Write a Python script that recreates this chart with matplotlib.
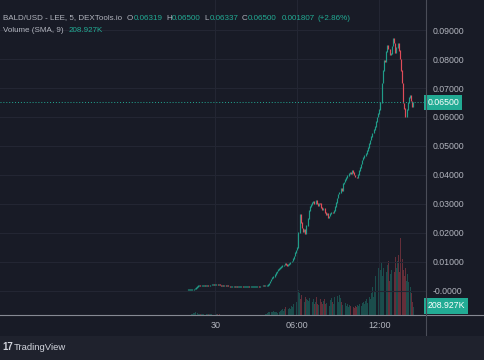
import matplotlib
matplotlib.use("Agg")
import matplotlib.pyplot as plt
import numpy as np
from matplotlib.lines import Line2D
from matplotlib.patches import Rectangle
from matplotlib import transforms

plt.rcParams['font.family'] = ['Liberation Sans', 'DejaVu Sans']

# colours (TradingView dark)
BG = '#181b26'
BAR_BG = '#1f222d'
GRID = '#232633'
TXT = '#b2b5be'
UP = '#22ab94'
DOWN = '#f7525f'

W, H = 485, 360

# 5 minute candles, index 0 = "30" (midnight), first candle at -24
start = -24
closes = [
    0.0003, 0.0003, 0.0004, 0.0005, 0.0005, 0.0006, 0.0008, 0.0012, 0.0015, 0.0017,
    0.0018, 0.0017, 0.0018, 0.0019, 0.0019, 0.0018, 0.0019, 0.0020, 0.0019, 0.0020,
    0.0020, 0.0021, 0.0021, 0.0020, 0.0021, 0.0022, 0.0021, 0.0022, 0.0020, 0.0019,
    0.0019, 0.0018, 0.0018, 0.0017, 0.0017, 0.0016, 0.0016, 0.0015, 0.0015, 0.0015,
    0.0015, 0.0014, 0.0015, 0.0014, 0.0014, 0.0014, 0.0014, 0.0015, 0.0014, 0.0014,
    0.0014, 0.0014, 0.0014, 0.0015, 0.0014, 0.0014, 0.0015, 0.0015, 0.0015, 0.0015,
    0.0015, 0.0016, 0.0015, 0.0016, 0.0016, 0.0016, 0.0017, 0.0016, 0.0017, 0.0018,
    0.0022, 0.0027, 0.0033, 0.0040, 0.0045, 0.0050, 0.0056, 0.0062, 0.0068, 0.0072,
    0.0076, 0.0080, 0.0083, 0.0086, 0.0089, 0.0093, 0.0090, 0.0087, 0.0091, 0.0095,
    0.0099, 0.0103, 0.0110, 0.0120, 0.0132, 0.0140, 0.0148, 0.0200, 0.0262, 0.0235,
    0.0217, 0.0205, 0.0212, 0.0197, 0.0225, 0.0250, 0.0276, 0.0290, 0.0298, 0.0305,
    0.0310, 0.0302, 0.0312, 0.0300, 0.0294, 0.0303, 0.0300, 0.0288, 0.0280, 0.0286,
    0.0270, 0.0262, 0.0268, 0.0252, 0.0258, 0.0266, 0.0272, 0.0268, 0.0276, 0.0290,
    0.0305, 0.0320, 0.0334, 0.0340, 0.0352, 0.0346, 0.0369, 0.0375, 0.0385, 0.0392,
    0.0397, 0.0405, 0.0410, 0.0405, 0.0414, 0.0408, 0.0400, 0.0393, 0.0390, 0.0402,
    0.0415, 0.0425, 0.0438, 0.0451, 0.0460, 0.0468, 0.0475, 0.0483, 0.0495, 0.0508,
    0.0520, 0.0532, 0.0545, 0.0556, 0.0566, 0.0585, 0.0600, 0.0612, 0.0625, 0.0650,
    0.0717, 0.0760, 0.0797, 0.0790, 0.0825, 0.0849, 0.0835, 0.0815, 0.0820, 0.0845,
    0.0870, 0.0855, 0.0822, 0.0840, 0.0854, 0.0830, 0.0800, 0.0760, 0.0717, 0.0648,
    0.0630, 0.0600, 0.0625, 0.0650, 0.0668, 0.0676, 0.0655, 0.0634, 0.0650,
]
# volume in thousands
volumes = [
    5, 5, 10, 20, 30, 40, 50, 60, 40, 30,
    30, 20, 20, 25, 15, 20, 20, 15, 20, 15,
    20, 15, 15, 10, 15, 20, 15, 10, 20, 15,
    10, 10, 8, 8, 10, 8, 6, 8, 6, 5,
    5, 5, 4, 5, 4, 4, 5, 4, 4, 5,
    4, 4, 5, 4, 4, 5, 5, 4, 5, 5,
    6, 5, 6, 8, 6, 8, 10, 8, 12, 20,
    40, 60, 70, 80, 60, 90, 70, 80, 60, 50,
    70, 90, 110, 130, 100, 150, 180, 120, 140, 160,
    150, 200, 180, 250, 220, 300, 420, 580, 520, 380,
    460, 350, 300, 420, 380, 350, 320, 400, 280, 300,
    360, 250, 300, 420, 260, 240, 380, 300, 260, 320,
    380, 250, 280, 300, 220, 350, 400, 300, 250, 420,
    360, 440, 300, 460, 400, 300, 240, 220, 280, 200,
    260, 180, 240, 200, 280, 180, 160, 220, 190, 240,
    200, 250, 220, 280, 300, 260, 320, 360, 280, 420,
    380, 500, 660, 420, 560, 900, 700, 1100, 800, 1050,
    1200, 900, 1100, 850, 1000, 1150, 1250, 800, 950, 1050,
    1200, 1000, 1350, 1100, 1250, 1400, 1000, 1780, 1300, 1050,
    900, 1100, 800, 950, 760, 650, 500, 300, 180,
]
price_ticks = [0.0, 0.01, 0.02, 0.03, 0.04, 0.05, 0.06, 0.07, 0.08, 0.09]
price_labels = ['-0.0000', '0.01000', '0.02000', '0.03000', '0.04000',
                '0.05000', '0.06000', '0.07000', '0.08000', '0.09000']
time_ticks = [0, 72, 144]
time_labels = ['30', '06:00', '12:00']
last_price = 0.065
vol_sma = 208.927

closes = np.array(closes)
volumes = np.array(volumes)
idx = np.arange(start, start + len(closes))
opens = np.r_[closes[0], closes[:-1]]
up = closes >= opens
colors = np.where(up, UP, DOWN)

fig = plt.figure(figsize=(W / 100, H / 100), dpi=100, facecolor=BG)

# bottom strip with the logo
fig.add_artist(Rectangle((0, 0), 1, 24 / H, transform=fig.transFigure,
                         facecolor=BAR_BG, edgecolor='none', zorder=0))

ax2 = fig.add_axes([0, 45 / H, 426 / W, 315 / H])
ax = fig.add_axes([0, 45 / H, 426 / W, 315 / H], sharex=ax2)
ax2.set_facecolor(BG)
ax.patch.set_visible(False)

# volume
ax2.bar(idx, volumes, width=0.8, color=colors, alpha=0.35, linewidth=0)
ax2.set_ylim(0, 7310)
ax2.set_yticks([])
ax2.tick_params(axis='x', length=0, labelbottom=False)
for s in ax2.spines.values():
    s.set_visible(False)

# candles (body from previous close to close, at least ~1px tall)
lo = np.minimum(opens, closes) - 0.00012
hi = np.maximum(opens, closes) + 0.00012
ax.vlines(idx, lo, hi, colors=colors, linewidth=0.85, alpha=0.9)

ax.set_xlim(-189, 185)
ax.set_ylim(-0.0084, 0.1004)
ax.set_xticks(time_ticks)
ax.set_xticklabels(time_labels)
ax.set_yticks(price_ticks)
ax.set_yticklabels(price_labels)
ax.yaxis.tick_right()
ax.tick_params(axis='y', length=0, pad=5, labelsize=6.3, labelcolor=TXT)
ax.tick_params(axis='x', length=0, pad=4.5, labelsize=6.5, labelcolor=TXT)
ax.grid(True, color=GRID, linewidth=0.8)
ax2.set_axisbelow(True)
for s in ax.spines.values():
    s.set_visible(False)

# last price dotted line and labels
ax.axhline(last_price, color=UP, linewidth=0.7, linestyle=(0, (1, 2)))
yt = transforms.blended_transform_factory(ax.transAxes, ax.transData)
ax.text(1.003, last_price, '0.06500', transform=yt, ha='left', va='center',
        fontsize=6.3, color='white', clip_on=False,
        bbox=dict(boxstyle='square,pad=0.35', facecolor=UP, edgecolor='none'))
yt2 = transforms.blended_transform_factory(ax2.transAxes, ax2.transData)
ax2.text(1.003, vol_sma, '208.927K', transform=yt2, ha='left', va='center',
         fontsize=6.3, color='white', clip_on=False,
         bbox=dict(boxstyle='square,pad=0.35', facecolor=UP, edgecolor='none'))

# separators
fig.add_artist(Line2D([0, 1], [45 / H, 45 / H], transform=fig.transFigure,
                      color='#868993', linewidth=0.8))
fig.add_artist(Line2D([426 / W, 426 / W], [25 / H, 1], transform=fig.transFigure,
                      color='#4a4d58', linewidth=0.8))


def text_row(parts, x, y, size=5.8):
    "draw coloured pieces of text one after another (pixel coords)"
    r = fig.canvas.get_renderer()
    for s, c, gap in parts:
        t = fig.text(x / W, 1 - y / H, s, color=c, fontsize=size,
                     ha='left', va='center')
        x += t.get_window_extent(r).width + gap


text_row([('BALD/USD - LEE, 5, DEXTools.io', TXT, 5),
          ('O', TXT, 0), ('0.06319', UP, 4),
          ('H', TXT, 0), ('0.06500', UP, 4),
          ('L', TXT, 0), ('0.06337', UP, 4),
          ('C', TXT, 0), ('0.06500', UP, 5),
          ('0.001807', UP, 3), ('(+2.86%)', UP, 0)], 3, 18)
text_row([('Volume (SMA, 9)', TXT, 5), ('208.927K', UP, 0)], 3, 30)

# logo
fig.text(2 / W, 1 - 347 / H, '17', color='#d1d4dc', fontsize=7,
         fontweight='bold', ha='left', va='center')
fig.text(14 / W, 1 - 347 / H, 'TradingView', color='#d1d4dc', fontsize=6.8,
         ha='left', va='center')

fig.savefig('out.png', dpi=100, facecolor=BG)
